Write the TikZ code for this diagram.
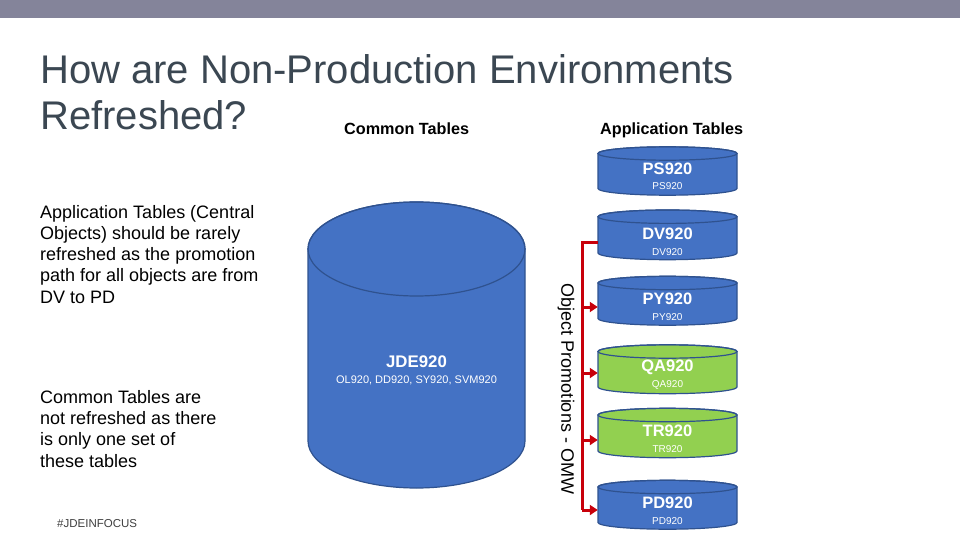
\documentclass[tikz,border=0pt]{standalone}
\usepackage{fontspec}
\setmainfont{Liberation Sans}
\usetikzlibrary{arrows.meta,calc}
\definecolor{barc}{HTML}{84849A}
\definecolor{titlec}{HTML}{3B4752}
\definecolor{cblue}{HTML}{4472C4}
\definecolor{cgreen}{HTML}{92D050}
\definecolor{cedge}{HTML}{2F528F}
\definecolor{promo}{HTML}{C8000A}
\definecolor{tagc}{HTML}{404040}
\newcommand{\dbcyl}[6]{%
  \filldraw[fill=#6, draw=cedge, line width=1.2pt]
    (#1-#4,#2) -- (#1-#4,#3)
    arc[start angle=180, end angle=0, x radius=#4, y radius=#5]
    -- (#1+#4,#2)
    arc[start angle=0, end angle=-180, x radius=#4, y radius=#5] -- cycle;
  \draw[cedge, line width=1.2pt] (#1,#2) ellipse[x radius=#4, y radius=#5];
}
\tikzset{
  body/.style={font=\fontsize{18}{21.3}\selectfont, anchor=north west, inner sep=0pt, align=left, text=black},
  head/.style={font=\bfseries\fontsize{16.2}{18}\selectfont, anchor=base west, inner sep=0pt, text=black},
  dblbl/.style={font=\bfseries\fontsize{16.5}{16.5}\selectfont, text=white, inner sep=0pt, minimum width=139pt},
  dbsub/.style={font=\fontsize{10}{10}\selectfont, text=white, inner sep=0pt},
  promoline/.style={draw=promo, line width=3pt},
  promoarrow/.style={promoline, -{Triangle[length=8pt,width=10pt]}}
}
\begin{document}
\begin{tikzpicture}[x=1pt, y=-1pt]
\useasboundingbox (0,0) rectangle (960,540);
\fill[white] (0,0) rectangle (960,540);
\fill[barc] (0,0) rectangle (960,18);

% title
\node[anchor=north west, inner sep=0pt, align=left, text=titlec,
      font=\fontsize{40}{46}\selectfont] (title) at (40,54.7)
  {How are Non-Production Environments\\Refreshed?};
\node[head] (common) at (344,135) {Common Tables};
\node[head] (apptab) at (600,135) {Application Tables};

% left texts
\node[body] (apptext) at (40,204.8)
  {Application Tables (Central\\Objects) should be rarely\\refreshed as the promotion\\path for all objects are from\\DV to PD};
\node[body] (comtext) at (40,390)
  {Common Tables are\\not refreshed as there\\is only one set of\\these tables};
\node[anchor=base west, inner sep=0pt, text=tagc, font=\fontsize{11.5}{11.5}\selectfont] (tag) at (57,527) {\#JDEINFOCUS};

% big cylinder
\dbcyl{416.5}{249}{441}{108.5}{47}{cblue}
\node[font=\bfseries\fontsize{16.8}{16.8}\selectfont, text=white, inner sep=0pt] (jde) at (416.5,362) {JDE920};
\node[font=\fontsize{11}{11}\selectfont, text=white, inner sep=0pt] (jdesub) at (416.5,380) {OL920, DD920, SY920, SVM920};

% right cylinders
\dbcyl{667.5}{153.5}{188.5}{69.5}{6.7}{cblue}
\dbcyl{667.5}{216.7}{253}{69.5}{6.7}{cblue}
\dbcyl{667.5}{283}{318.5}{69.5}{6.7}{cblue}
\dbcyl{667.5}{351.5}{387}{69.5}{6.7}{cgreen}
\dbcyl{667.5}{415}{451}{69.5}{6.7}{cgreen}
\dbcyl{667.5}{487}{522.5}{69.5}{6.7}{cblue}

\node[dblbl] (ps) at (667.5,168.5) {PS920};
\node[dbsub] (pssub) at (667.5,186) {PS920};
\node[dblbl] (dv) at (667.5,234) {DV920};
\node[dbsub] (dvsub) at (667.5,252) {DV920};
\node[dblbl] (py) at (667.5,299) {PY920};
\node[dbsub] (pysub) at (667.5,317) {PY920};
\node[dblbl] (qa) at (667.5,367.5) {QA920};
\node[dbsub] (qasub) at (667.5,385) {QA920};
\node[dblbl] (tr) at (667.5,431) {TR920};
\node[dbsub] (trsub) at (667.5,449) {TR920};
\node[dblbl] (pd) at (667.5,503) {PD920};
\node[dbsub] (pdsub) at (667.5,521) {PD920};

% promotion path
\coordinate (tTop) at (582,242);
\coordinate (tPY) at (582,307);
\coordinate (tQA) at (582,373);
\coordinate (tTR) at (582,440);
\coordinate (tBot) at (582,510);
\draw[promoline] (tTop -| dv.west) -- (tTop) -- (tBot);
\draw[promoarrow] (tPY) -- (tPY -| py.west);
\draw[promoarrow] (tQA) -- (tQA -| qa.west);
\draw[promoarrow] (tTR) -- (tTR -| tr.west);
\draw[promoarrow] (tBot) -- (tBot -| pd.west);

\node[rotate=-90, font=\fontsize{18}{18}\selectfont, text=black, inner sep=0pt] (omw) at (566,389) {Object Promotions - OMW};
\end{tikzpicture}
\end{document}
